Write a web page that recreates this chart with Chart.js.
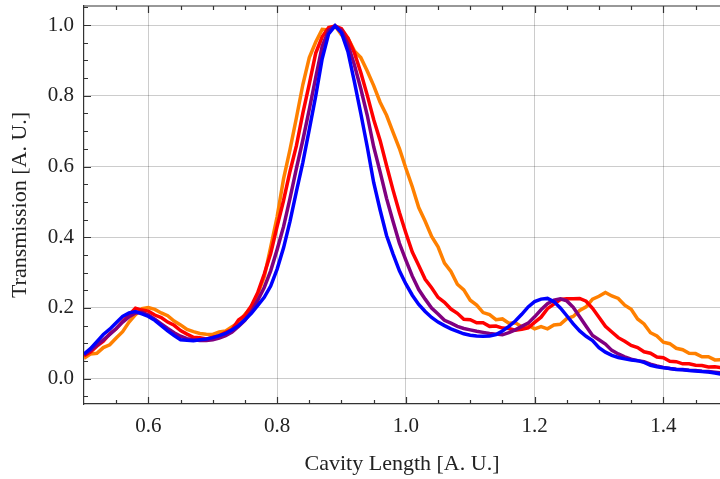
<!DOCTYPE html>
<html>
<head>
<meta charset="utf-8">
<script src="https://cdn.jsdelivr.net/npm/chart.js@4.4.1/dist/chart.umd.min.js"></script>
<style>
    body { margin: 0; background: #fff; }
    #wrap { width: 720px; height: 479px; }
</style>
</head>
<body>
<div id="wrap"><canvas id="chart" width="720" height="479"></canvas></div>
<script>
// Sample positions along the cavity length
const cavityLength = [
    0.50, 0.51, 0.52, 0.53, 0.54, 0.55, 0.56, 0.57, 0.58, 0.59,
    0.60, 0.61, 0.62, 0.63, 0.64, 0.65, 0.66, 0.67, 0.68, 0.69,
    0.70, 0.71, 0.72, 0.73, 0.74, 0.75, 0.76, 0.77, 0.78, 0.79,
    0.80, 0.81, 0.82, 0.83, 0.84, 0.85, 0.86, 0.87, 0.88, 0.89,
    0.90, 0.91, 0.92, 0.93, 0.94, 0.95, 0.96, 0.97, 0.98, 0.99,
    1.00, 1.01, 1.02, 1.03, 1.04, 1.05, 1.06, 1.07, 1.08, 1.09,
    1.10, 1.11, 1.12, 1.13, 1.14, 1.15, 1.16, 1.17, 1.18, 1.19,
    1.20, 1.21, 1.22, 1.23, 1.24, 1.25, 1.26, 1.27, 1.28, 1.29,
    1.30, 1.31, 1.32, 1.33, 1.34, 1.35, 1.36, 1.37, 1.38, 1.39,
    1.40, 1.41, 1.42, 1.43, 1.44, 1.45, 1.46, 1.47, 1.48, 1.49
];

const blueTrace = [
    0.070, 0.085, 0.105, 0.125, 0.140, 0.158, 0.176, 0.186, 0.190, 0.183,
    0.176, 0.165, 0.150, 0.135, 0.122, 0.110, 0.109, 0.107, 0.110, 0.112,
    0.116, 0.122, 0.128, 0.138, 0.150, 0.167, 0.185, 0.207, 0.230, 0.262,
    0.310, 0.370, 0.445, 0.530, 0.612, 0.705, 0.800, 0.905, 0.975, 0.998,
    0.978, 0.925, 0.840, 0.750, 0.656, 0.555, 0.477, 0.405, 0.353, 0.305,
    0.268, 0.236, 0.210, 0.190, 0.173, 0.160, 0.150, 0.141, 0.134, 0.127,
    0.123, 0.121, 0.120, 0.121, 0.125, 0.135, 0.148, 0.163, 0.182, 0.203,
    0.218, 0.225, 0.227, 0.218, 0.200, 0.178, 0.155, 0.135, 0.120, 0.108,
    0.088, 0.075, 0.066, 0.060, 0.056, 0.053, 0.051, 0.046, 0.038, 0.034,
    0.031, 0.029, 0.026, 0.025, 0.023, 0.022, 0.020, 0.019, 0.016, 0.013
];

const purpleTrace = [
    0.068, 0.080, 0.095, 0.110, 0.125, 0.142, 0.160, 0.175, 0.186, 0.188,
    0.180, 0.168, 0.155, 0.142, 0.130, 0.120, 0.113, 0.110, 0.108, 0.108,
    0.110, 0.115, 0.122, 0.132, 0.148, 0.165, 0.190, 0.222, 0.258, 0.305,
    0.365, 0.430, 0.510, 0.595, 0.675, 0.762, 0.852, 0.940, 0.985, 0.998,
    0.985, 0.945, 0.888, 0.820, 0.745, 0.656, 0.585, 0.510, 0.445, 0.383,
    0.335, 0.290, 0.252, 0.225, 0.200, 0.183, 0.165, 0.157, 0.148, 0.142,
    0.138, 0.134, 0.131, 0.128, 0.126, 0.124, 0.130, 0.138, 0.148, 0.157,
    0.175, 0.195, 0.212, 0.222, 0.226, 0.220, 0.202, 0.175, 0.148, 0.122,
    0.110, 0.098, 0.080, 0.070, 0.062, 0.055, 0.051, 0.048, 0.041, 0.036,
    0.032, 0.029, 0.027, 0.026, 0.024, 0.023, 0.021, 0.020, 0.018, 0.016
];

const redTrace = [
    0.065, 0.075, 0.092, 0.106, 0.127, 0.141, 0.162, 0.180, 0.199, 0.194,
    0.191, 0.180, 0.173, 0.160, 0.151, 0.136, 0.126, 0.117, 0.116, 0.112,
    0.117, 0.121, 0.131, 0.139, 0.166, 0.179, 0.206, 0.244, 0.296, 0.354,
    0.431, 0.504, 0.586, 0.659, 0.751, 0.834, 0.921, 0.967, 0.993, 0.997,
    0.990, 0.963, 0.922, 0.866, 0.802, 0.733, 0.674, 0.603, 0.534, 0.470,
    0.412, 0.358, 0.320, 0.281, 0.257, 0.230, 0.216, 0.197, 0.185, 0.168,
    0.167, 0.158, 0.158, 0.148, 0.149, 0.143, 0.142, 0.137, 0.140, 0.144,
    0.159, 0.174, 0.198, 0.211, 0.224, 0.226, 0.226, 0.227, 0.219, 0.199,
    0.174, 0.148, 0.132, 0.116, 0.106, 0.094, 0.088, 0.076, 0.072, 0.061,
    0.059, 0.049, 0.048, 0.042, 0.042, 0.038, 0.037, 0.033, 0.034, 0.031
];

const orangeTrace = [
    0.058, 0.070, 0.072, 0.088, 0.096, 0.115, 0.133, 0.160, 0.181, 0.198,
    0.201, 0.196, 0.186, 0.178, 0.163, 0.152, 0.139, 0.133, 0.128, 0.126,
    0.125, 0.132, 0.135, 0.147, 0.158, 0.182, 0.203, 0.240, 0.288, 0.372,
    0.458, 0.565, 0.648, 0.738, 0.832, 0.908, 0.952, 0.988, 0.986, 0.998,
    0.972, 0.963, 0.927, 0.908, 0.870, 0.829, 0.782, 0.745, 0.697, 0.651,
    0.595, 0.543, 0.484, 0.445, 0.402, 0.373, 0.327, 0.303, 0.267, 0.251,
    0.222, 0.208, 0.187, 0.181, 0.167, 0.169, 0.157, 0.158, 0.147, 0.151,
    0.141, 0.147, 0.141, 0.152, 0.154, 0.170, 0.176, 0.193, 0.203, 0.225,
    0.233, 0.244, 0.234, 0.227, 0.208, 0.196, 0.169, 0.155, 0.130, 0.121,
    0.103, 0.099, 0.086, 0.082, 0.072, 0.071, 0.062, 0.062, 0.053, 0.054
];

// Axis ticks
const xMajorTicks = [0.6, 0.8, 1.0, 1.2, 1.4];
const xMinorTicks = [0.55, 0.65, 0.7, 0.75, 0.85, 0.9, 0.95, 1.05, 1.1, 1.15, 1.25, 1.3, 1.35, 1.45];
const yMajorTicks = [0.0, 0.2, 0.4, 0.6, 0.8, 1.0];
const yMinorTicks = [-0.05, 0.05, 0.1, 0.15, 0.25, 0.3, 0.35, 0.45, 0.5, 0.55, 0.65, 0.7, 0.75, 0.85, 0.9, 0.95, 1.05];

const serif = "'Liberation Serif', 'DejaVu Serif', serif";
const inkColor = '#333';

const toPoints = (values) => values.map((v, i) => ({ x: cavityLength[i], y: v }));

// Inward tick marks plus the top frame line
const tickMarks = {
    id: 'tickMarks',
    beforeDatasetsDraw(chart) {
        const { ctx, chartArea: a, scales: { x, y } } = chart;
        ctx.save();
        ctx.strokeStyle = inkColor;
        ctx.lineWidth = 1.2;
        ctx.beginPath();
        ctx.moveTo(a.left, a.top);
        ctx.lineTo(a.right, a.top);
        const markX = (vals, len) => vals.forEach(v => {
            const px = Math.round(x.getPixelForValue(v)) + 0.5;
            ctx.moveTo(px, a.bottom); ctx.lineTo(px, a.bottom - len);
            ctx.moveTo(px, a.top); ctx.lineTo(px, a.top + len);
        });
        const markY = (vals, len) => vals.forEach(v => {
            const py = Math.round(y.getPixelForValue(v)) + 0.5;
            ctx.moveTo(a.left, py); ctx.lineTo(a.left + len, py);
        });
        markX(xMajorTicks, 7);
        markX(xMinorTicks, 4);
        markY(yMajorTicks, 7);
        markY(yMinorTicks, 4);
        ctx.stroke();
        ctx.restore();
    }
};

const makeLine = (label, values, color) => ({
    label: label,
    data: toPoints(values),
    borderColor: color,
    borderWidth: 3.5,
    pointRadius: 0,
    tension: 0,
    fill: false
});

new Chart(document.getElementById('chart'), {
    type: 'line',
    data: {
        datasets: [
            makeLine('blue', blueTrace, '#0000ff'),
            makeLine('purple', purpleTrace, '#800080'),
            makeLine('red', redTrace, '#ff0000'),
            makeLine('orange', orangeTrace, '#ff8000')
        ]
    },
    options: {
        responsive: false,
        animation: false,
        layout: { padding: { top: 6, right: 0, bottom: 0, left: 0 } },
        plugins: {
            legend: { display: false },
            tooltip: { enabled: false }
        },
        scales: {
            x: {
                type: 'linear',
                min: 0.5,
                max: 1.488,
                afterFit: (scale) => {
                    scale.height = 75;
                    scale.paddingLeft = 0;
                    scale.paddingRight = 0;
                },
                afterBuildTicks: (scale) => { scale.ticks = xMajorTicks.map(v => ({ value: v })); },
                grid: { color: 'rgba(0,0,0,0.2)', lineWidth: 1, drawTicks: false },
                border: { color: inkColor, width: 1.2 },
                ticks: {
                    padding: 10,
                    color: '#222',
                    font: { family: serif, size: 21 },
                    callback: (v) => v.toFixed(1)
                },
                title: {
                    display: true,
                    text: 'Cavity Length [A. U.]',
                    color: '#222',
                    font: { family: serif, size: 22 },
                    padding: { top: 0, bottom: 2 }
                }
            },
            y: {
                type: 'linear',
                min: -0.0716,
                max: 1.054,
                afterFit: (scale) => {
                    scale.width = 84;
                    scale.paddingTop = 0;
                    scale.paddingBottom = 0;
                },
                afterBuildTicks: (scale) => { scale.ticks = yMajorTicks.map(v => ({ value: v })); },
                grid: { color: 'rgba(0,0,0,0.2)', lineWidth: 1, drawTicks: false },
                border: { color: inkColor, width: 1.2 },
                ticks: {
                    padding: 10,
                    color: '#222',
                    font: { family: serif, size: 21 },
                    callback: (v) => v.toFixed(1)
                },
                title: {
                    display: true,
                    text: 'Transmission [A. U.]',
                    color: '#222',
                    font: { family: serif, size: 22 },
                    padding: { top: 7, bottom: 0 }
                }
            }
        }
    },
    plugins: [tickMarks]
});
</script>
</body>
</html>
